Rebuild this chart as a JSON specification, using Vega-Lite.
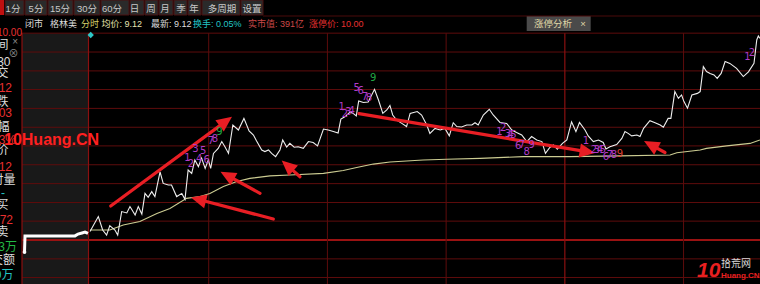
{
"$schema": "https://vega.github.io/schema/vega-lite/v6.json",
"width": 760, "height": 284,
"autosize": {"type": "none"},
"padding": 0,
"background": "#000000",
"config": {"view": {"stroke": null}, "axis": {"disable": true}, "legend": {"disable": true}},
"datasets": {
"price": [
{"t":0,"p":9.127},{"t":2.1,"p":9.193},{"t":3.2,"p":9.134},{"t":4.2,"p":9.112},{"t":5.0,"p":9.153},{"t":6.3,"p":9.134},{"t":7.0,"p":9.112},{"t":8.0,"p":9.215},{"t":9.3,"p":9.209},{"t":10.1,"p":9.237},{"t":11.4,"p":9.2},{"t":12.2,"p":9.237},{"t":13.1,"p":9.204},{"t":13.9,"p":9.295},{"t":14.7,"p":9.278},{"t":15.6,"p":9.303},{"t":16.4,"p":9.281},{"t":17.7,"p":9.39},{"t":18.5,"p":9.339},{"t":19.8,"p":9.332},{"t":20.6,"p":9.332},{"t":21.9,"p":9.281},{"t":23.2,"p":9.295},{"t":24.0,"p":9.269},{"t":24.8,"p":9.398},{"t":25.7,"p":9.383},{"t":26.5,"p":9.442},{"t":27.4,"p":9.413},{"t":28.2,"p":9.45},{"t":29.1,"p":9.405},{"t":29.9,"p":9.442},{"t":30.5,"p":9.405},{"t":31.2,"p":9.471},{"t":32.4,"p":9.493},{"t":33.3,"p":9.523},{"t":34.1,"p":9.5},{"t":35.0,"p":9.471},{"t":36.1,"p":9.596},{"t":37.5,"p":9.574},{"t":38.9,"p":9.625},{"t":40.2,"p":9.57},{"t":41.3,"p":9.552},{"t":42.1,"p":9.526},{"t":43.4,"p":9.486},{"t":44.2,"p":9.479},{"t":45.1,"p":9.486},{"t":45.9,"p":9.471},{"t":46.9,"p":9.457},{"t":48.0,"p":9.486},{"t":48.7,"p":9.53},{"t":49.7,"p":9.499},{"t":50.5,"p":9.515},{"t":51.6,"p":9.498},{"t":52.6,"p":9.5},{"t":53.9,"p":9.493},{"t":55.2,"p":9.523},{"t":56.4,"p":9.519},{"t":57.5,"p":9.504},{"t":59.0,"p":9.578},{"t":60.2,"p":9.574},{"t":61.5,"p":9.567},{"t":62.7,"p":9.561},{"t":63.4,"p":9.622},{"t":64.4,"p":9.632},{"t":65.7,"p":9.653},{"t":66.5,"p":9.647},{"t":67.3,"p":9.636},{"t":67.9,"p":9.702},{"t":69.1,"p":9.695},{"t":70.3,"p":9.697},{"t":71.9,"p":9.753},{"t":72.9,"p":9.706},{"t":74.0,"p":9.647},{"t":75.0,"p":9.662},{"t":75.8,"p":9.682},{"t":76.5,"p":9.64},{"t":77.5,"p":9.618},{"t":78.8,"p":9.603},{"t":80.0,"p":9.589},{"t":80.9,"p":9.647},{"t":82.7,"p":9.655},{"t":83.8,"p":9.64},{"t":85.1,"p":9.596},{"t":85.9,"p":9.559},{"t":87.2,"p":9.581},{"t":88.5,"p":9.574},{"t":89.7,"p":9.581},{"t":90.8,"p":9.548},{"t":91.8,"p":9.606},{"t":92.7,"p":9.589},{"t":93.9,"p":9.587},{"t":95.2,"p":9.596},{"t":96.5,"p":9.596},{"t":97.3,"p":9.606},{"t":98.1,"p":9.596},{"t":99.4,"p":9.64},{"t":100.9,"p":9.665},{"t":101.9,"p":9.64},{"t":103.6,"p":9.607},{"t":105.3,"p":9.603},{"t":106.6,"p":9.574},{"t":107.8,"p":9.563},{"t":109.1,"p":9.552},{"t":110.4,"p":9.523},{"t":111.6,"p":9.545},{"t":112.9,"p":9.53},{"t":114.2,"p":9.523},{"t":115.1,"p":9.471},{"t":116.2,"p":9.497},{"t":117.1,"p":9.508},{"t":118.1,"p":9.49},{"t":119.4,"p":9.515},{"t":120.5,"p":9.53},{"t":121.7,"p":9.61},{"t":122.8,"p":9.567},{"t":123.7,"p":9.607},{"t":125.1,"p":9.574},{"t":125.9,"p":9.548},{"t":127.2,"p":9.523},{"t":128.5,"p":9.53},{"t":129.7,"p":9.519},{"t":130.4,"p":9.49},{"t":131.4,"p":9.5},{"t":133.1,"p":9.51},{"t":134.4,"p":9.537},{"t":135.2,"p":9.567},{"t":136.0,"p":9.559},{"t":136.9,"p":9.548},{"t":138.2,"p":9.552},{"t":139.0,"p":9.545},{"t":139.9,"p":9.581},{"t":141.5,"p":9.615},{"t":142.8,"p":9.606},{"t":144.1,"p":9.596},{"t":144.9,"p":9.586},{"t":146.1,"p":9.625},{"t":146.8,"p":9.625},{"t":147.8,"p":9.743},{"t":148.7,"p":9.713},{"t":149.5,"p":9.728},{"t":150.1,"p":9.699},{"t":151.0,"p":9.67},{"t":152.1,"p":9.728},{"t":153.5,"p":9.735},{"t":154.2,"p":9.743},{"t":155.0,"p":9.853},{"t":155.8,"p":9.831},{"t":156.7,"p":9.823},{"t":157.7,"p":9.816},{"t":158.5,"p":9.801},{"t":159.5,"p":9.823},{"t":160.5,"p":9.875},{"t":161.7,"p":9.867},{"t":163.4,"p":9.845},{"t":165.1,"p":9.809},{"t":166.4,"p":9.83},{"t":167.8,"p":9.867},{"t":168.5,"p":9.97},{"t":168.9,"p":9.988},{"t":169.3,"p":9.977}
],
"avg": [
{"t":0,"p":9.134},{"t":5.0,"p":9.134},{"t":8.4,"p":9.156},{"t":12.6,"p":9.171},{"t":16.9,"p":9.207},{"t":20.2,"p":9.229},{"t":24.4,"p":9.273},{"t":27.8,"p":9.281},{"t":30.3,"p":9.295},{"t":33.7,"p":9.325},{"t":37.1,"p":9.347},{"t":40.4,"p":9.361},{"t":45.5,"p":9.372},{"t":50.5,"p":9.376},{"t":59.0,"p":9.383},{"t":64.0,"p":9.396},{"t":67.4,"p":9.409},{"t":71.6,"p":9.424},{"t":75.8,"p":9.433},{"t":84.2,"p":9.442},{"t":90.1,"p":9.445},{"t":98.6,"p":9.449},{"t":109.5,"p":9.457},{"t":121.3,"p":9.457},{"t":134.0,"p":9.46},{"t":146.6,"p":9.464},{"t":148.3,"p":9.474},{"t":154.2,"p":9.486},{"t":155.8,"p":9.493},{"t":160.9,"p":9.504},{"t":166.8,"p":9.515},{"t":169.3,"p":9.53}
],
"auction": [
{"t":-16.55,"p":9.037},{"t":-16.43,"p":9.108},{"t":-3.79,"p":9.108},{"t":-3.03,"p":9.116},{"t":-2.02,"p":9.121},{"t":-1.26,"p":9.125},{"t":-0.51,"p":9.119}
],
"arrows": [
{"t1":5.23,"p1":9.2396,"t2":35.89,"p2":9.6325},
{"t1":46.32,"p1":9.1824,"t2":25.52,"p2":9.277},
{"t1":42.96,"p1":9.2955,"t2":32.98,"p2":9.3905},
{"t1":53.07,"p1":9.3685,"t2":48.45,"p2":9.4398},
{"t1":67.98,"p1":9.6457,"t2":127.62,"p2":9.4728},
{"t1":145.31,"p1":9.475,"t2":140.01,"p2":9.5256}
]
},
"layer": [
{"data": {"values": [{"a":-21.48,"b":-16.68},{"a":-16.43,"b":-10.87},{"a":-10.61,"b":-4.3},{"a":-4.04,"b":2.53},{"a":2.78,"b":9.86},{"a":10.11,"b":13.65},{"a":13.9,"b":17.19},{"a":17.44,"b":20.98},{"a":21.23,"b":24.51},{"a":24.77,"b":28.05},{"a":28.3,"b":37.91},{"a":38.16,"b":43.72}]},
 "mark": {"type": "rect", "fill": "#2a2a2a", "stroke": "#4a1010", "strokeWidth": 1},
 "encoding": {"x": {"field": "a", "type": "quantitative", "scale": {"domain": [-22.745, 169.32], "nice": false, "zero": false}, "axis": null},
  "x2": {"field": "b"},
  "y": {"datum": 10.1459, "scale": {"domain": [8.8964, 10.1459], "nice": false, "zero": false}, "axis": null},
  "y2": {"datum": 10.0799}}},
{"data": {"values": [{"a":-22.745,"b":-21.73}]},
 "mark": {"type": "rect", "fill": "#c01010"},
 "encoding": {"x": {"field": "a", "type": "quantitative"}, "x2": {"field": "b"}, "y": {"datum": 10.1459}, "y2": {"datum": 10.0799}}},
{"data": {"values": [{"a":-17.18,"b":-0.38}]},
 "mark": {"type": "rect", "fill": "#191919"},
 "encoding": {"x": {"field": "a", "type": "quantitative"}, "x2": {"field": "b"}, "y": {"datum": 10.0}, "y2": {"datum": 8.8964}}},
{"data": {"values": [{"a":110.36,"b":126.53}]},
 "mark": {"type": "rect", "fill": "#4a4a4a"},
 "encoding": {"x": {"field": "a", "type": "quantitative"}, "x2": {"field": "b"}, "y": {"datum": 10.0755}, "y2": {"datum": 10.0095}}},
{"data": {"values": [{"p":8.925},{"p":9.007},{"p":9.173},{"p":9.255},{"p":9.338},{"p":9.421},{"p":9.504},{"p":9.586},{"p":9.669},{"p":9.752},{"p":9.834},{"p":9.917},{"p":10.0}]},
 "mark": {"type": "rule", "color": "#5e0c0c", "strokeWidth": 1},
 "encoding": {"y": {"field": "p", "type": "quantitative"}, "x": {"datum": -17.18}, "x2": {"datum": 169.32}}},
{"data": {"values": [{"p":9.09}]},
 "mark": {"type": "rule", "color": "#9a1212", "strokeWidth": 2.2},
 "encoding": {"y": {"field": "p", "type": "quantitative"}, "x": {"datum": -17.18}, "x2": {"datum": 169.32}}},
{"data": {"values": [{"t":30},{"t":60},{"t":90},{"t":150}]},
 "mark": {"type": "rule", "color": "#5e0c0c", "strokeWidth": 1},
 "encoding": {"x": {"field": "t", "type": "quantitative"}, "y": {"datum": 10.0}, "y2": {"datum": 8.8964}}},
{"data": {"values": [{"t":120},{"t":-0.38},{"t":-17.18}]},
 "mark": {"type": "rule", "color": "#8a1010", "strokeWidth": 1.2},
 "encoding": {"x": {"field": "t", "type": "quantitative"}, "y": {"datum": 10.0}, "y2": {"datum": 8.8964}}},
{"data": {"values": [{"p":10.0755}]},
 "mark": {"type": "rule", "color": "#4a0a0a", "strokeWidth": 1},
 "encoding": {"y": {"field": "p", "type": "quantitative"}, "x": {"datum": 43.72}, "x2": {"datum": 169.32}}},
{"data": {"name": "auction"},
 "mark": {"type": "line", "color": "#ffffff", "strokeWidth": 3},
 "encoding": {"x": {"field": "t", "type": "quantitative"}, "y": {"field": "p", "type": "quantitative"}, "order": {"field": "t"}}},
{"data": {"values": [{"t":-16.55,"p":9.037}]},
 "mark": {"type": "point", "shape": "circle", "filled": true, "color": "#ffffff", "opacity": 1, "size": 14},
 "encoding": {"x": {"field": "t", "type": "quantitative"}, "y": {"field": "p", "type": "quantitative"}}},
{"data": {"name": "avg"},
 "mark": {"type": "line", "color": "#cccc92", "strokeWidth": 1.1},
 "encoding": {"x": {"field": "t", "type": "quantitative"}, "y": {"field": "p", "type": "quantitative"}}},
{"data": {"name": "price"},
 "mark": {"type": "line", "color": "#eeeeee", "strokeWidth": 1.1},
 "encoding": {"x": {"field": "t", "type": "quantitative"}, "y": {"field": "p", "type": "quantitative"}}},
{"data": {"name": "arrows"},
 "transform": [
  {"calculate": "(datum.t2-datum.t1)*3.957", "as": "dx"},
  {"calculate": "(datum.p2-datum.p1)*227.3", "as": "dy"},
  {"calculate": "1-10/sqrt(datum.dx*datum.dx+datum.dy*datum.dy)", "as": "f"},
  {"calculate": "datum.t1+(datum.t2-datum.t1)*datum.f", "as": "te"},
  {"calculate": "datum.p1+(datum.p2-datum.p1)*datum.f", "as": "pe"}
 ],
 "mark": {"type": "rule", "color": "#e81e24", "strokeWidth": 3.2, "strokeCap": "round"},
 "encoding": {"x": {"field": "t1", "type": "quantitative"}, "y": {"field": "p1", "type": "quantitative"}, "x2": {"field": "te"}, "y2": {"field": "pe"}}},
{"data": {"name": "arrows"},
 "transform": [
  {"calculate": "atan2((datum.t2-datum.t1)*3.957, (datum.p2-datum.p1)*227.3)*180/PI", "as": "ang"}
 ],
 "mark": {"type": "point", "shape": "M0,0L0.78,1.7L-0.78,1.7Z", "filled": true, "color": "#e81e24", "opacity": 1, "size": 330},
 "encoding": {"x": {"field": "t2", "type": "quantitative"}, "y": {"field": "p2", "type": "quantitative"}, "angle": {"field": "ang", "type": "quantitative", "scale": null}}},
{"data": {"values": [
  {"t":24.64,"p":9.4495,"s":"1","r":"purple"},{"t":25.52,"p":9.4222,"s":"2","r":"purple"},{"t":26.66,"p":9.4895,"s":"3","r":"purple"},{"t":27.62,"p":9.4473,"s":"4","r":"purple"},{"t":28.63,"p":9.4829,"s":"5","r":"purple"},{"t":29.49,"p":9.4398,"s":"6","r":"purple"},{"t":30.58,"p":9.5256,"s":"7","r":"purple"},{"t":31.59,"p":9.5322,"s":"8","r":"purple"},{"t":32.68,"p":9.5652,"s":"9","r":"g9"},
  {"t":63.61,"p":9.6738,"s":"1","r":"purple"},{"t":64.44,"p":9.6452,"s":"2","r":"purple"},{"t":65.28,"p":9.6545,"s":"3","r":"purple"},{"t":66.13,"p":9.6589,"s":"4","r":"purple"},{"t":67.4,"p":9.7574,"s":"5","r":"purple"},{"t":68.41,"p":9.7469,"s":"6","r":"purple"},{"t":69.5,"p":9.7205,"s":"7","r":"purple"},{"t":70.51,"p":9.7134,"s":"8","r":"purple"},{"t":71.59,"p":9.8014,"s":"9","r":"g9"},
  {"t":103.44,"p":9.5665,"s":"1","r":"purple"},{"t":104.45,"p":9.5841,"s":"2","r":"purple"},{"t":105.64,"p":9.5564,"s":"3","r":"purple"},{"t":106.27,"p":9.5498,"s":"4","r":"purple"},{"t":106.98,"p":9.552,"s":"5","r":"purple"},{"t":108.24,"p":9.5036,"s":"6","r":"purple"},{"t":109.17,"p":9.508,"s":"7","r":"purple"},{"t":110.36,"p":9.4785,"s":"8","r":"purple"},{"t":111.62,"p":9.508,"s":"9","r":"purple"},
  {"t":125.35,"p":9.5269,"s":"1","r":"purple"},{"t":127.37,"p":9.486,"s":"2","r":"purple"},{"t":128.13,"p":9.4838,"s":"3","r":"purple"},{"t":128.89,"p":9.486,"s":"4","r":"purple"},{"t":129.64,"p":9.486,"s":"5","r":"purple"},{"t":130.4,"p":9.4539,"s":"6","r":"purple"},{"t":131.41,"p":9.4618,"s":"7","r":"purple"},{"t":132.42,"p":9.4618,"s":"8","r":"purple"},{"t":133.94,"p":9.4684,"s":"9","r":"r9"},
  {"t":166.16,"p":9.8951,"s":"1","r":"purple"},{"t":167.3,"p":9.9127,"s":"2","r":"purple"}
 ]},
 "mark": {"type": "text", "align": "center", "baseline": "middle", "fontSize": 10, "font": "'DejaVu Sans', sans-serif"},
 "encoding": {"x": {"field": "t", "type": "quantitative"}, "y": {"field": "p", "type": "quantitative"}, "text": {"field": "s"},
  "color": {"field": "r", "type": "nominal", "legend": null, "scale": {"domain": ["lbl","btn","yel","avg","cyan","pink","red","green","purple","g9","r9","tab","gray","logo","wm"], "range": ["#dcdcdc","#c8c8c8","#d6d26a","#e6e2b0","#22c4c4","#cc4848","#e83030","#22b844","#b03cc8","#22a844","#e04030","#e0d8a8","#8a8a8a","#d8d8d8","#ff2222"]}}}},
{"data": {"values": [
  {"t":-16.43,"s":"闭市","r":"lbl"},{"t":-10.11,"s":"格林美","r":"lbl"},{"t":-2.27,"s":"分时","r":"yel"},{"t":2.9,"s":"均价: 9.12","r":"avg"},{"t":15.4,"s":"最新: 9.12","r":"lbl"},{"t":26.03,"s":"换手: 0.05%","r":"cyan"},{"t":39.93,"s":"实市值: 391亿","r":"pink"},{"t":55.35,"s":"涨停价: 10.00","r":"red"}
 ]},
 "mark": {"type": "text", "align": "left", "baseline": "middle", "fontSize": 9, "font": "'Liberation Sans', 'Noto Sans CJK SC', sans-serif"},
 "encoding": {"x": {"field": "t", "type": "quantitative"}, "y": {"datum": 10.0425}, "text": {"field": "s"},
  "color": {"field": "r", "type": "nominal", "legend": null}}},
{"data": {"values": [
  {"t":-19.46,"p":10.1085,"s":"1分","r":"btn"},{"t":-13.65,"p":10.1085,"s":"5分","r":"btn"},{"t":-7.58,"p":10.1085,"s":"15分","r":"btn"},{"t":-0.76,"p":10.1085,"s":"30分","r":"btn"},{"t":5.56,"p":10.1085,"s":"60分","r":"btn"},{"t":11.24,"p":10.1085,"s":"日","r":"btn"},{"t":15.41,"p":10.1085,"s":"周","r":"btn"},{"t":18.95,"p":10.1085,"s":"月","r":"btn"},{"t":23.0,"p":10.1085,"s":"季","r":"btn"},{"t":26.28,"p":10.1085,"s":"年","r":"btn"},{"t":33.36,"p":10.1085,"s":"多周期","r":"btn"},{"t":40.94,"p":10.1085,"s":"设置","r":"btn"},
  {"t":117.0,"p":10.0403,"s":"涨停分析","r":"tab"},{"t":124.6,"p":10.0403,"s":"×","r":"tab"}
 ]},
 "mark": {"type": "text", "align": "center", "baseline": "middle", "fontSize": 9.5, "font": "'Liberation Sans', 'Noto Sans CJK SC', sans-serif"},
 "encoding": {"x": {"field": "t", "type": "quantitative"}, "y": {"field": "p", "type": "quantitative"}, "text": {"field": "s"},
  "color": {"field": "r", "type": "nominal", "legend": null}}},
{"data": {"values": [
  {"t":-20.597,"p":9.9479,"s":"时间","r":"lbl"},{"t":-20.091,"p":9.8731,"s":"13:30","r":"lbl"},
  {"t":-20.597,"p":9.8247,"s":"成交","r":"lbl"},{"t":-19.712,"p":9.7587,"s":"9.12","r":"red"},
  {"t":-20.597,"p":9.6971,"s":"涨跌","r":"lbl"},{"t":-19.712,"p":9.6487,"s":"0.03","r":"red"},
  {"t":-20.344,"p":9.5872,"s":"涨幅","r":"lbl"},{"t":-18.701,"p":9.53,"s":"0.33%","r":"red"},
  {"t":-20.597,"p":9.486,"s":"均价","r":"lbl"},{"t":-19.712,"p":9.4112,"s":"9.12","r":"red"},
  {"t":-18.828,"p":9.354,"s":"分时量","r":"lbl"},{"t":-21.481,"p":9.2968,"s":"-","r":"cyan"},
  {"t":-20.597,"p":9.244,"s":"外买","r":"lbl"},{"t":-19.46,"p":9.178,"s":"572","r":"red"},
  {"t":-20.597,"p":9.1252,"s":"内卖","r":"lbl"},{"t":-18.449,"p":9.0592,"s":"4.03万","r":"green"},
  {"t":-18.954,"p":9.002,"s":"成交额","r":"lbl"},{"t":-19.333,"p":8.9361,"s":"520万","r":"cyan"}
 ]},
 "mark": {"type": "text", "align": "right", "baseline": "middle", "fontSize": 12, "font": "'Liberation Sans', 'Noto Sans CJK SC', sans-serif"},
 "encoding": {"x": {"field": "t", "type": "quantitative"}, "y": {"field": "p", "type": "quantitative"}, "text": {"field": "s"},
  "color": {"field": "r", "type": "nominal", "legend": null}}},
{"data": {"values": [
  {"t":-17.185,"p":10.0007,"s":"10.00","r":"red"},{"t":-18.2,"p":9.961,"s":"×","r":"gray"},{"t":-18.1,"p":9.908,"s":"⊗","r":"gray"}
 ]},
 "mark": {"type": "text", "align": "right", "baseline": "middle", "fontSize": 10, "font": "'Liberation Sans', 'Noto Sans CJK SC', sans-serif"},
 "encoding": {"x": {"field": "t", "type": "quantitative"}, "y": {"field": "p", "type": "quantitative"}, "text": {"field": "s"},
  "color": {"field": "r", "type": "nominal", "legend": null}}},
{"data": {"values": [{"t":0.18,"p":9.992}]},
 "mark": {"type": "point", "shape": "diamond", "filled": true, "color": "#2ec8c8", "opacity": 1, "size": 40},
 "encoding": {"x": {"field": "t", "type": "quantitative"}, "y": {"field": "p", "type": "quantitative"}}},
{"data": {"values": [{"t":-21.734,"p":9.53,"s":"10Huang.CN"}]},
 "mark": {"type": "text", "align": "left", "baseline": "middle", "fontSize": 16, "fontWeight": "bold", "color": "#ff2020", "font": "'Liberation Sans', sans-serif"},
 "encoding": {"x": {"field": "t", "type": "quantitative"}, "y": {"field": "p", "type": "quantitative"}, "text": {"field": "s"}}},
{"data": {"values": [{"t":153.39,"p":8.9537,"s":"10"}]},
 "mark": {"type": "text", "align": "left", "baseline": "middle", "fontSize": 21, "fontWeight": "bold", "fontStyle": "italic", "color": "#e82020", "font": "'Liberation Sans', sans-serif"},
 "encoding": {"x": {"field": "t", "type": "quantitative"}, "y": {"field": "p", "type": "quantitative"}, "text": {"field": "s"}}},
{"data": {"values": [{"t":159.46,"p":8.9844,"s":"拾荒网"}]},
 "mark": {"type": "text", "align": "left", "baseline": "middle", "fontSize": 10, "color": "#d8d8d8", "font": "'Noto Sans CJK SC', sans-serif"},
 "encoding": {"x": {"field": "t", "type": "quantitative"}, "y": {"field": "p", "type": "quantitative"}, "text": {"field": "s"}}},
{"data": {"values": [{"t":159.46,"p":8.9295,"s":"Huang.CN"}]},
 "mark": {"type": "text", "align": "left", "baseline": "middle", "fontSize": 8, "fontWeight": "bold", "color": "#e82020", "font": "'Liberation Sans', sans-serif"},
 "encoding": {"x": {"field": "t", "type": "quantitative"}, "y": {"field": "p", "type": "quantitative"}, "text": {"field": "s"}}}
]
}
